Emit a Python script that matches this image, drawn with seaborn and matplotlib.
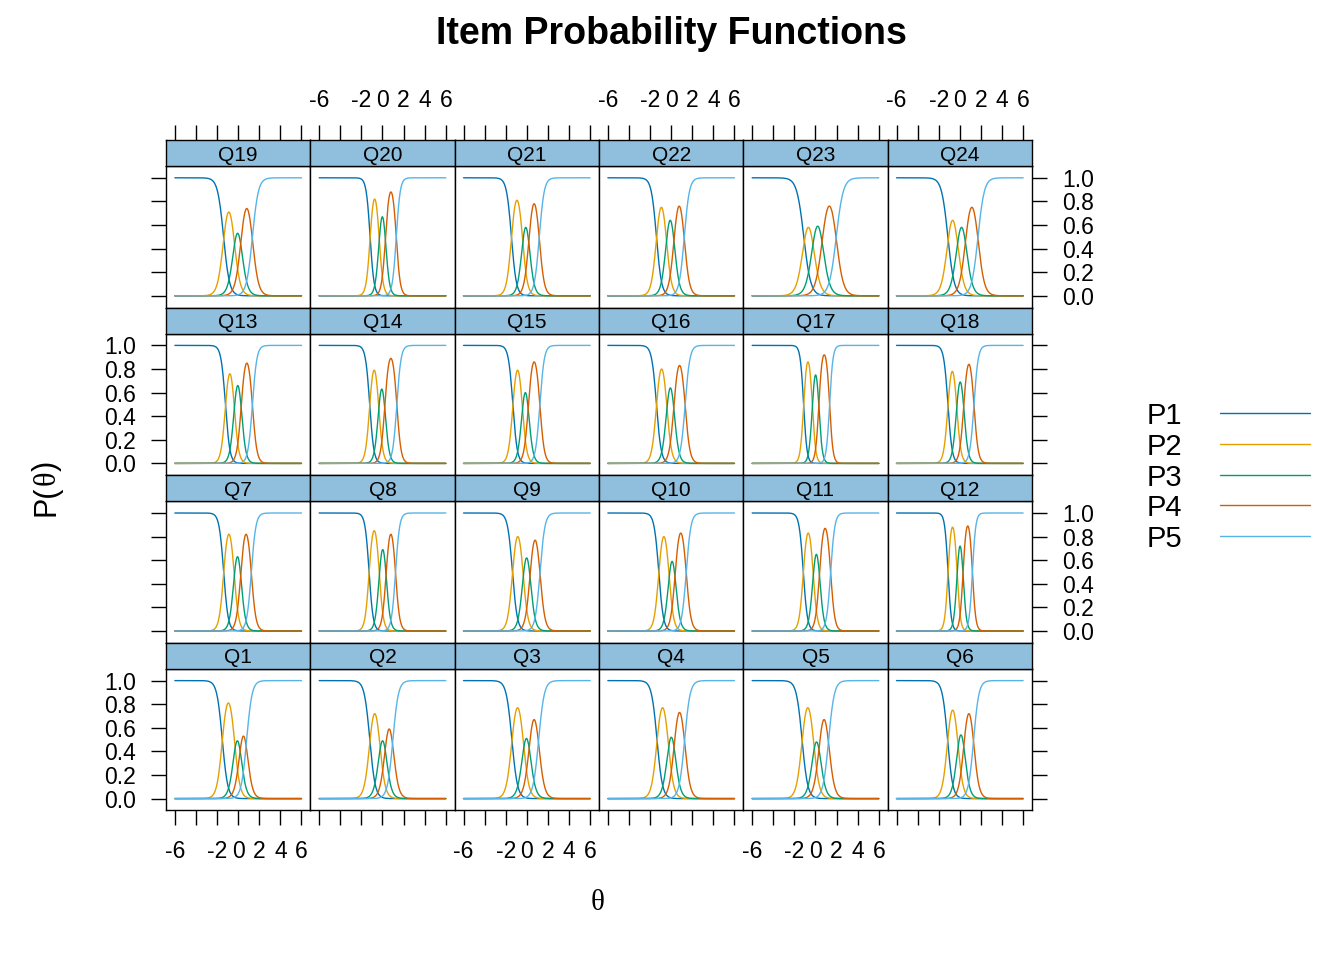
import numpy as np
import pandas as pd
import matplotlib
matplotlib.use("Agg")
import matplotlib.pyplot as plt
import seaborn as sns
from matplotlib.lines import Line2D

# ===== 0. Data =====
items = [f"Q{i}" for i in range(1, 25)]
categories = ["P1", "P2", "P3", "P4", "P5"]
colors = ["#0072B2", "#E69F00", "#009E73", "#D55E00", "#56B4E9"]

# peak location (theta) of the middle categories P2 / P3 / P4, Q1..Q24
peak_x_p2 = [-0.94, -0.75, -0.88, -0.82, -0.72, -0.69,
             -0.88, -0.79, -0.85, -0.69, -0.69, -0.69,
             -0.79, -0.79, -0.88, -0.91, -0.72, -0.72,
             -0.88, -0.75, -0.94, -0.94, -0.69, -0.69]
peak_x_p3 = [-0.06, 0.03, -0.03, 0.03, 0.09, 0.13,
             -0.06, 0.03, -0.03, 0.09, 0.09, 0.03,
             -0.03, -0.06, -0.13, -0.06, 0.03, 0.06,
             -0.06, 0.00, -0.09, -0.06, 0.25, 0.19]
peak_x_p4 = [0.50, 0.63, 0.69, 0.79, 0.82, 0.85,
             0.75, 0.79, 0.79, 0.91, 0.91, 0.75,
             0.82, 0.79, 0.69, 0.79, 0.82, 0.85,
             0.82, 0.79, 0.69, 0.75, 1.29, 1.13]
# peak height of P2 / P3 / P4
peak_h_p2 = [0.81, 0.72, 0.77, 0.77, 0.77, 0.75,
             0.82, 0.85, 0.80, 0.80, 0.83, 0.88,
             0.76, 0.79, 0.79, 0.80, 0.86, 0.78,
             0.71, 0.82, 0.81, 0.75, 0.58, 0.64]
peak_h_p3 = [0.49, 0.49, 0.51, 0.52, 0.48, 0.54,
             0.63, 0.69, 0.62, 0.59, 0.65, 0.72,
             0.66, 0.63, 0.60, 0.64, 0.75, 0.69,
             0.53, 0.67, 0.58, 0.64, 0.59, 0.58]
peak_h_p4 = [0.53, 0.59, 0.67, 0.73, 0.67, 0.72,
             0.82, 0.82, 0.77, 0.83, 0.87, 0.89,
             0.85, 0.89, 0.86, 0.83, 0.92, 0.84,
             0.74, 0.88, 0.78, 0.76, 0.76, 0.75]

x_ticks = [-6, -4, -2, 0, 2, 4, 6]
x_tick_labels = ["-6", "", "-2", "0", "2", "4", "6"]
y_ticks = [0.0, 0.2, 0.4, 0.6, 0.8, 1.0]
y_tick_labels = ["0.0", "0.2", "0.4", "0.6", "0.8", "1.0"]


# ===== 1. Graded response curves from the peaks =====
def grm_params(px, ph):
    # peak height of a middle category = tanh(a * gap / 4)
    A = 4 * np.arctanh(np.array(ph))
    a = ((A[0] + A[1]) / (2 * (px[1] - px[0])) + (A[1] + A[2]) / (2 * (px[2] - px[1]))) / 2
    g = A / a
    b2 = np.mean([px[0] + g[0] / 2, px[1] - g[1] / 2, px[2] - g[1] - g[2] / 2])
    return a, [b2 - g[0], b2, b2 + g[1], b2 + g[1] + g[2]]


theta = np.linspace(-6, 6, 301)
frames = []
for i, item in enumerate(items):
    a, b = grm_params([peak_x_p2[i], peak_x_p3[i], peak_x_p4[i]],
                      [peak_h_p2[i], peak_h_p3[i], peak_h_p4[i]])
    cum = [np.ones_like(theta)] + [1 / (1 + np.exp(-a * (theta - bk))) for bk in b] + [np.zeros_like(theta)]
    for k, cat in enumerate(categories):
        frames.append(pd.DataFrame({"item": item, "cat": cat, "theta": theta, "prob": cum[k] - cum[k + 1]}))
df = pd.concat(frames, ignore_index=True)

# ===== 2. Figure =====
sns.set_style("white")
plt.rcParams["font.family"] = ["Liberation Sans", "DejaVu Sans"]
plt.rcParams["text.color"] = "black"
plt.rcParams["xtick.color"] = "black"
plt.rcParams["ytick.color"] = "black"
plt.rcParams["axes.edgecolor"] = "black"
plt.rcParams["axes.linewidth"] = 1.0

W, H = 1344, 960
fig = plt.figure(figsize=(W / 100, H / 100), dpi=100)

left0, col_w = 166, 144.33
top0, row_h, strip_h = 140, 167.6, 26
xlim = (-6.84, 6.84)
ylim = (-0.1, 1.1)
tick_fs = 16.5
serif = ["Liberation Serif", "DejaVu Serif"]


def frac(x, y, w, h):
    return [x / W, 1 - (y + h) / H, w / W, h / H]


for r in range(4):
    for c in range(6):
        idx = (3 - r) * 6 + c
        x0 = left0 + c * col_w
        y0 = top0 + r * row_h

        ax = fig.add_axes(frac(x0, y0 + strip_h, col_w, row_h - strip_h))
        sub = df[df["item"] == items[idx]]
        sns.lineplot(data=sub, x="theta", y="prob", hue="cat", hue_order=categories,
                     palette=colors, estimator=None, legend=False, linewidth=1.0, ax=ax)
        ax.set_xlim(xlim)
        ax.set_ylim(ylim)
        ax.set_xlabel("")
        ax.set_ylabel("")
        ax.set_xticks(x_ticks)
        ax.set_xticklabels(x_tick_labels)
        ax.set_yticks(y_ticks)
        ax.set_yticklabels(y_tick_labels)
        ax.tick_params(direction="out", length=10.5, width=1.0, color="black",
                       labelcolor="black", labelsize=tick_fs)
        ax.tick_params(axis="x", pad=10.5, bottom=(r == 3), top=False,
                       labelbottom=(r == 3 and c % 2 == 0), labeltop=False)
        ax.tick_params(axis="y", pad=11.0, left=(c == 0), right=(c == 5),
                       labelleft=(c == 0 and r % 2 == 1), labelright=(c == 5 and r % 2 == 0))
        for sp in ax.spines.values():
            sp.set_color("black")
            sp.set_linewidth(1.0)

        # strip with the item name
        sax = fig.add_axes(frac(x0, y0, col_w, strip_h))
        sax.set_facecolor("#8FBFDC")
        sax.set_xlim(xlim)
        sax.set_yticks([])
        sax.text(0.5, 0.42, items[idx], transform=sax.transAxes,
                 ha="center", va="center", fontsize=15, color="black")
        if r == 0:
            sax.set_xticks(x_ticks)
            sax.set_xticklabels(x_tick_labels)
            sax.tick_params(axis="x", direction="out", length=10.5, width=1.0, color="black",
                            labelcolor="black", labelsize=tick_fs, pad=10,
                            top=True, bottom=False, labeltop=(c % 2 == 1), labelbottom=False)
        else:
            sax.set_xticks([])
        for sp in sax.spines.values():
            sp.set_color("black")
            sp.set_linewidth(1.0)

# titles and axis labels
fig.text(671 / W, 1 - 34 / H, "Item Probability Functions", ha="center", va="center",
         fontsize=27, fontweight="bold", color="black")
fig.text(598 / W, 1 - 903 / H, "θ", ha="center", va="center", fontsize=21, color="black",
         family=serif)

# y label "P(θ)": sans parts with a serif theta in the middle
renderer = fig.canvas.get_renderer()
ylab_x, ylab_y = 47 / W, 1 - 478 / H
t_mid = fig.text(ylab_x, ylab_y, "θ", ha="center", va="center", rotation=90,
                 fontsize=22, family=serif)
half = t_mid.get_window_extent(renderer).height / 2 / H
fig.text(ylab_x, ylab_y - half, "P(", ha="center", va="top", rotation=90, fontsize=22)
fig.text(ylab_x, ylab_y + half, ")", ha="center", va="bottom", rotation=90, fontsize=22)

# legend on the right
for k, cat in enumerate(categories):
    ly = 413.3 + k * 30.7
    fig.text(1147 / W, 1 - (ly + 3) / H, cat, ha="left", va="center", fontsize=21, color="black")
    fig.add_artist(Line2D([1220 / W, 1310 / W], [1 - ly / H, 1 - ly / H],
                          transform=fig.transFigure, color=colors[k], linewidth=1.0))

fig.savefig("out.png", dpi=100)
